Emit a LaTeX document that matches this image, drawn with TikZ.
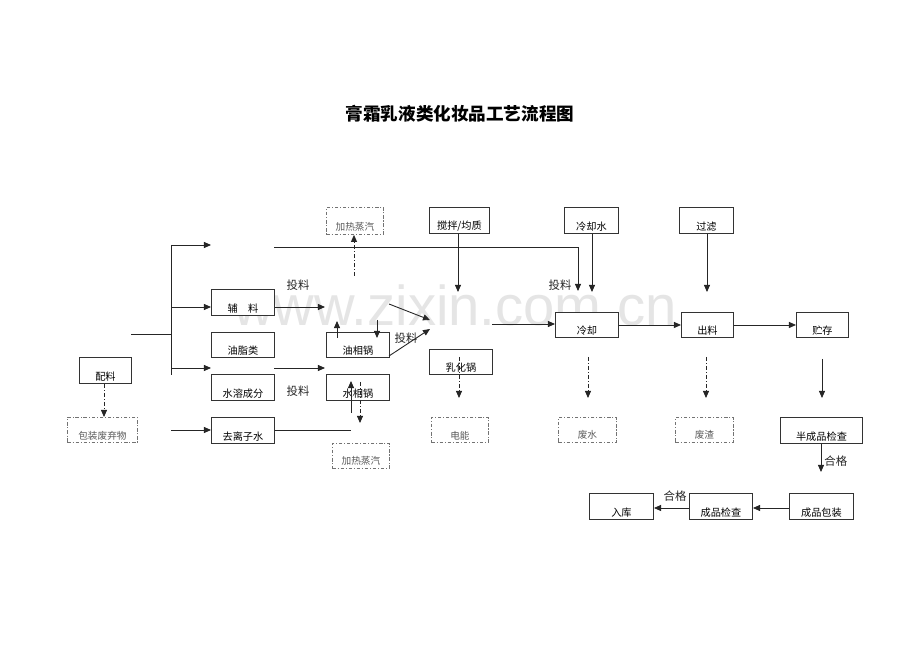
\documentclass[tikz,border=0pt]{standalone}
\usepackage{fontspec}
\newfontfamily\cjk{Noto Sans CJK SC}
\setmainfont{Liberation Sans}
\usetikzlibrary{arrows.meta,calc}
\newcommand{\mkbox}[6]{%
  \node[#1, minimum width={(#4-#2)*0.02cm}, minimum height={(#5-#3)*0.02cm}, anchor=north west] (#6) at (#2,#3) {};}
\tikzset{
  solidbox/.style={draw=black!80, line width=0.55pt, inner sep=0pt, fill=white},
  dashbox/.style={draw=black!55, line width=0.5pt, dash pattern=on 2pt off 1pt on 0.6pt off 1pt, inner sep=0pt},
  btext/.style={font=\cjk\fontsize{5.8}{7}\selectfont, inner sep=0pt, text=black},
  dtext/.style={font=\cjk\fontsize{5.5}{6}\selectfont, inner sep=0pt, text=black!65},
  lbl/.style={font=\cjk\fontsize{6.5}{7}\selectfont, inner sep=0pt, text=black!85},
  con/.style={line width=0.5pt, draw=black!85},
  arr/.style={con, -{Triangle[length=4pt,width=3.4pt]}},
  darr/.style={line width=0.5pt, draw=black!85, dash pattern=on 2.5pt off 1pt on 0.6pt off 1pt, -{Triangle[length=4pt,width=3.4pt]}}
}
\begin{document}
\begin{tikzpicture}[x=0.02cm, y=-0.02cm]
\useasboundingbox (0,0) rectangle (920,651);
\fill[white] (0,0) rectangle (920,651);
% watermark
\node[anchor=base, font=\fontsize{32}{32}\selectfont, text=black!10, inner sep=0pt] (wm) at (455,326) {www.zixin.com.cn};
% title
\node[font=\cjk\bfseries\fontsize{10}{12}\selectfont, inner sep=0pt] (title) at (460,114) {膏霜乳液类化妆品工艺流程图};

% solid boxes
\mkbox{solidbox}{79}{357}{131}{383}{pl}
\mkbox{solidbox}{211}{289}{274}{315}{fl}
\mkbox{solidbox}{211}{332}{274}{357}{yzl}
\mkbox{solidbox}{211}{374}{274}{400}{srcf}
\mkbox{solidbox}{211}{417}{274}{443}{qlzs}
\mkbox{solidbox}{326}{332}{389}{357}{yx}
\mkbox{solidbox}{326}{374}{389}{400}{sx}
\mkbox{solidbox}{429}{207}{489}{233}{jbjz}
\mkbox{solidbox}{429}{349}{492}{374}{rh}
\mkbox{solidbox}{564}{207}{618}{233}{lqs}
\mkbox{solidbox}{555}{312}{618}{337}{lq}
\mkbox{solidbox}{679}{207}{733}{233}{gl}
\mkbox{solidbox}{681}{312}{733}{337}{cl}
\mkbox{solidbox}{796}{312}{848}{337}{zc}
\mkbox{solidbox}{780}{417}{862}{443}{bcp}
\mkbox{solidbox}{789}{493}{853}{519}{cpbz}
\mkbox{solidbox}{689}{493}{752}{519}{cpjc}
\mkbox{solidbox}{589}{493}{653}{519}{rk}
% dashed boxes
\mkbox{dashbox}{67}{417}{137}{442}{bzfqw}
\mkbox{dashbox}{326}{207}{383}{234}{jrzq1}
\mkbox{dashbox}{332}{443}{389}{468}{jrzq2}
\mkbox{dashbox}{431}{417}{488}{442}{dn}
\mkbox{dashbox}{558}{417}{616}{442}{fs}
\mkbox{dashbox}{675}{417}{733}{442}{fz}

% box texts
\node[btext] at ([yshift=4.3pt]pl.south) {配料};
\node[btext] at ([yshift=4.3pt]fl.south) {辅\quad 料};
\node[btext] at ([yshift=4.3pt]yzl.south) {油脂类};
\node[btext] at ([yshift=4.3pt]srcf.south) {水溶成分};
\node[btext] at ([yshift=4.3pt]qlzs.south) {去离子水};
\node[btext] at ([yshift=4.3pt]yx.south) {油相锅};
\node[btext] at ([yshift=4.3pt]sx.south) {水相锅};
\node[btext] at ([yshift=4.3pt]jbjz.south) {搅拌/均质};
\node[btext] at ([yshift=4.3pt]rh.south) {乳化锅};
\node[btext] at ([yshift=4.3pt]lqs.south) {冷却水};
\node[btext] at ([yshift=4.3pt]lq.south) {冷却};
\node[btext] at ([yshift=4.3pt]gl.south) {过滤};
\node[btext] at ([yshift=4.3pt]cl.south) {出料};
\node[btext] at ([yshift=4.3pt]zc.south) {贮存};
\node[btext] at ([yshift=4.3pt]bcp.south) {半成品检查};
\node[btext] at ([yshift=4.3pt]cpbz.south) {成品包装};
\node[btext] at ([yshift=4.3pt]cpjc.south) {成品检查};
\node[btext] at ([yshift=4.3pt]rk.south) {入库};
\node[dtext] at ([yshift=4.3pt]bzfqw.south) {包装废弃物};
\node[dtext] at ([yshift=4.3pt]jrzq1.south) {加热蒸汽};
\node[dtext] at ([yshift=4.3pt]jrzq2.south) {加热蒸汽};
\node[dtext] at ([yshift=4.3pt]dn.south) {电能};
\node[dtext] at ([yshift=4.3pt]fs.south) {废水};
\node[dtext] at ([yshift=4.3pt]fz.south) {废渣};

% labels
\node[lbl] (tl1) at (298,285) {投料};
\node[lbl] (tl2) at (298,391) {投料};
\node[lbl] (tl3) at (406,338) {投料};
\node[lbl] (tl4) at (560,285) {投料};
\node[lbl, anchor=west] (hg1) at (824,461) {合格};
\node[lbl] (hg2) at (675,496) {合格};

% coordinates
\coordinate (b0) at (131,334);
\coordinate (b1) at (171,334);
\coordinate (bt) at (171,245);
\coordinate (bb) at (171,375);
\coordinate (e1) at (211,245);
\coordinate (s2) at (171,307);
\coordinate (s3) at (171,368);
\coordinate (e3) at (211,368);
\coordinate (s4) at (171,430);
\coordinate (L0) at (274,247);
\coordinate (L1) at (578,247);
\coordinate (L2) at (578,291);
\coordinate (v0) at (354,276);
\coordinate (f0) at (274,307);
\coordinate (f1) at (325,307);
\coordinate (m0) at (389,304);
\coordinate (m1) at (430,320);
\coordinate (u0) at (337,338);
\coordinate (u1) at (337,321);
\coordinate (d0) at (377,320);
\coordinate (d1) at (377,338);
\coordinate (n0) at (389,356);
\coordinate (n1) at (430,329);
\coordinate (w0) at (274,368);
\coordinate (w1) at (325,368);
\coordinate (p0) at (351,413);
\coordinate (p1) at (351,381);
\coordinate (q0) at (360,382);
\coordinate (q1) at (360,423);
\coordinate (r1) at (351,430);
\coordinate (jb1) at (458,292);
\coordinate (lw1) at (592,292);
\coordinate (rh0) at (492,324);
\coordinate (rd0) at (459,357);
\coordinate (rd1) at (459,398);
\coordinate (ld0) at (588,357);
\coordinate (ld1) at (588,398);
\coordinate (gl1) at (707,292);
\coordinate (cd0) at (706,357);
\coordinate (cd1) at (706,398);
\coordinate (z0) at (822,359);
\coordinate (z1) at (822,398);
\coordinate (h1) at (821,472);
\coordinate (pk) at (104,0);
\coordinate (pkz) at (0,508);

% connectors
\draw[con] (b0) -- (b1);
\draw[con] (bt) -- (bb);
\draw[arr] (bt) -- (e1);
\draw[arr] (s2) -- (fl.west |- s2);
\draw[arr] (s3) -- (e3);
\draw[arr] (s4) -- (qlzs.west |- s4);
\draw[darr] (pl.south -| pk) -- (bzfqw.north -| pk);
\draw[arr] (L0) -- (L1) -- (L2);
\draw[darr] (v0) -- (jrzq1.south -| v0);
\draw[arr] (fl.east |- f0) -- (f1);
\draw[arr] (m0) -- (m1);
\draw[arr] (u0) -- (u1);
\draw[arr] (d0) -- (d1);
\draw[arr] (n0) -- (n1);
\draw[arr] (w0) -- (w1);
\draw[arr] (p0) -- (p1);
\draw[darr] (q0) -- (q1);
\draw[con] (qlzs.east |- r1) -- (r1);
\draw[arr] (jbjz.south -| jb1) -- (jb1);
\draw[arr] (lqs.south -| lw1) -- (lw1);
\draw[arr] (rh0) -- (lq.west |- rh0);
\draw[darr] (rd0) -- (rd1);
\draw[darr] (ld0) -- (ld1);
\draw[arr] (lq.east) -- (cl.west);
\draw[arr] (gl.south -| gl1) -- (gl1);
\draw[arr] (cl.east) -- (zc.west);
\draw[darr] (cd0) -- (cd1);
\draw[arr] (z0) -- (z1);
\draw[arr] (bcp.south -| h1) -- (h1);
\draw[arr] (cpbz.west |- pkz) -- (cpjc.east |- pkz);
\draw[arr] (cpjc.west |- pkz) -- (rk.east |- pkz);
\end{tikzpicture}
\end{document}
